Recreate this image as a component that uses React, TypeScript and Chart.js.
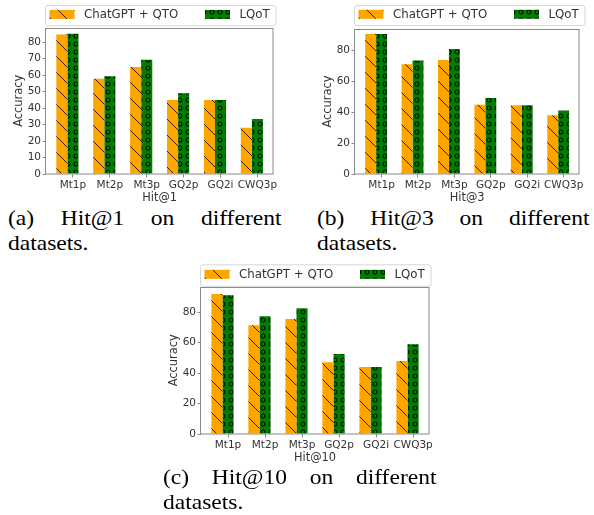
import React, { useEffect, useRef } from 'react';
import { Chart, registerables } from 'chart.js';

Chart.register(...registerables);

// ---------- data ----------
const categories = ['Mt1p', 'Mt2p', 'Mt3p', 'GQ2p', 'GQ2i', 'CWQ3p'];
const seriesNames = ['ChatGPT + QTO', 'LQoT'];

const hit1ChatGPT = [84.6, 57.7, 64.8, 44.8, 44.8, 28.0];
const hit1LQoT = [85.0, 59.3, 69.3, 49.0, 44.8, 33.4];

const hit3ChatGPT = [90.5, 71.0, 73.7, 44.8, 44.4, 38.0];
const hit3LQoT = [90.5, 73.5, 80.8, 49.2, 44.4, 41.0];

const hit10ChatGPT = [92.0, 71.5, 75.6, 47.2, 44.1, 47.9];
const hit10LQoT = [91.1, 77.4, 82.6, 52.5, 44.1, 59.0];

const yTicksHit1 = [0, 10, 20, 30, 40, 50, 60, 70, 80];
const yTicksHit3 = [0, 20, 40, 60, 80];
const yTicksHit10 = [0, 20, 40, 60, 80];

const xTitles = ['Hit@1', 'Hit@3', 'Hit@10'];
const yTitle = 'Accuracy';
const captions = [
  '(a) Hit@1 on different datasets.',
  '(b) Hit@3 on different datasets.',
  '(c) Hit@10 on different datasets.',
];

// ---------- styles ----------
const SANS = '"DejaVu Sans", sans-serif';
const TEXT = '#333333';
const SPINE = '#8a8a8a';
const ORANGE = '#FFA500';
const GREEN = '#008000';

function makeHatchPattern(ctx: CanvasRenderingContext2D): CanvasPattern | string {
  const s = 16;
  const c = document.createElement('canvas');
  c.width = s;
  c.height = s;
  const g = c.getContext('2d');
  if (!g) return ORANGE;
  g.fillStyle = ORANGE;
  g.fillRect(0, 0, s, s);
  g.strokeStyle = 'rgba(20,10,0,0.85)';
  g.lineWidth = 1;
  for (const off of [-s, 0, s]) {
    g.beginPath();
    g.moveTo(off - 2, -2);
    g.lineTo(off + s + 2, s + 2);
    g.stroke();
  }
  return ctx.createPattern(c, 'repeat') || ORANGE;
}

function makeCirclePattern(ctx: CanvasRenderingContext2D): CanvasPattern | string {
  const s = 8;
  const c = document.createElement('canvas');
  c.width = s;
  c.height = s;
  const g = c.getContext('2d');
  if (!g) return GREEN;
  g.fillStyle = GREEN;
  g.fillRect(0, 0, s, s);
  g.strokeStyle = 'rgba(0,0,0,0.9)';
  g.lineWidth = 1.1;
  g.beginPath();
  g.arc(4, 4, 2.0, 0, Math.PI * 2);
  g.stroke();
  return ctx.createPattern(c, 'repeat') || GREEN;
}

type PanelCfg = {
  left: number;
  top: number;
  w: number;
  h: number;
  padTop: number;
  padRight: number;
  legendTop: number;
  legendH: number;
  yMax: number;
  yTicks: number[];
  a: number[];
  b: number[];
  xTitle: string;
};

const panels: PanelCfg[] = [
  { left: 0, top: 0, w: 290, h: 205, padTop: 27.7, padRight: 16.7, legendTop: 5, legendH: 20.3, yMax: 88.7, yTicks: yTicksHit1, a: hit1ChatGPT, b: hit1LQoT, xTitle: xTitles[0] },
  { left: 309, top: 0, w: 285, h: 205, padTop: 29, padRight: 14.7, legendTop: 5, legendH: 20, yMax: 93.8, yTicks: yTicksHit3, a: hit3ChatGPT, b: hit3LQoT, xTitle: xTitles[1] },
  { left: 155, top: 260, w: 290, h: 205, padTop: 26.7, padRight: 16, legendTop: 4.3, legendH: 21.5, yMax: 96.8, yTicks: yTicksHit10, a: hit10ChatGPT, b: hit10LQoT, xTitle: xTitles[2] },
];

const captionBoxes = [
  { left: 8.3, top: 205, width: 273.5 },
  { left: 316.7, top: 205, width: 272.5 },
  { left: 162.7, top: 463.6, width: 273.5 },
];

function Panel({ cfg }: { cfg: PanelCfg }) {
  const ref = useRef<HTMLCanvasElement>(null);
  useEffect(() => {
    const canvas = ref.current;
    if (!canvas) return;
    const ctx = canvas.getContext('2d');
    if (!ctx) return;
    const hatch = makeHatchPattern(ctx);
    const circles = makeCirclePattern(ctx);

    const framePlugin = {
      id: 'frame',
      afterDatasetsDraw(chart: any) {
        const { ctx: c, chartArea: ca } = chart;
        c.save();
        c.strokeStyle = SPINE;
        c.lineWidth = 1;
        c.strokeRect(Math.round(ca.left) - 0.5, Math.round(ca.top) + 0.5, Math.round(ca.right - ca.left) + 0.5, Math.round(ca.bottom - ca.top) - 0.5);
        c.restore();
      },
    };

    const legendPlugin = {
      id: 'boxLegend',
      afterDraw(chart: any) {
        const { ctx: c, chartArea: ca } = chart;
        const L = Math.round(ca.left) - 0.5;
        const T = cfg.legendTop + 0.5;
        const W = 230.5;
        const H = cfg.legendH;
        c.save();
        c.beginPath();
        if ((c as any).roundRect) (c as any).roundRect(L, T, W, H, 2.5);
        else c.rect(L, T, W, H);
        c.fillStyle = 'rgba(255,255,255,0.85)';
        c.fill();
        c.strokeStyle = '#d6d6d6';
        c.lineWidth = 1;
        c.stroke();
        const patchX = [4, 159.5];
        chart.data.datasets.forEach((ds: any, i: number) => {
          const px = L + patchX[i];
          const cy = T + H / 2 - 1.2;
          c.fillStyle = ds.backgroundColor;
          c.fillRect(px, cy - 4.5, 25, 9);
          c.fillStyle = TEXT;
          c.font = '11.8px ' + SANS;
          c.textBaseline = 'middle';
          c.textAlign = 'left';
          c.fillText(ds.label, px + 34.5, cy + 0.8);
        });
        c.restore();
      },
    };

    const chart = new Chart(canvas, {
      type: 'bar',
      data: {
        datasets: [
          {
            label: seriesNames[0],
            data: cfg.a.map((v, i) => ({ x: i, y: v })),
            backgroundColor: hatch as any,
            borderWidth: 0,
          },
          {
            label: seriesNames[1],
            data: cfg.b.map((v, i) => ({ x: i, y: v })),
            backgroundColor: circles as any,
            borderWidth: 0,
          },
        ],
      },
      options: {
        responsive: false,
        animation: false,
        devicePixelRatio: window.devicePixelRatio || 1,
        layout: { padding: { top: cfg.padTop, right: cfg.padRight, bottom: 0, left: 0 } },
        datasets: { bar: { categoryPercentage: 0.6, barPercentage: 1.0, grouped: true } },
        plugins: { legend: { display: false }, tooltip: { enabled: false } },
        scales: {
          x: {
            type: 'linear',
            offset: false,
            min: -0.58,
            max: 5.58,
            afterBuildTicks: (s: any) => {
              s.ticks = categories.map((_, i) => ({ value: i + 0.15 }));
            },
            afterFit: (s: any) => {
              s.height = 31;
            },
            ticks: {
              callback: (_v: any, i: number) => categories[i],
              autoSkip: false,
              maxRotation: 0,
              minRotation: 0,
              padding: 1,
              color: TEXT,
              font: { family: SANS, size: 10.5 },
            },
            grid: { offset: false, drawOnChartArea: false, drawTicks: true, tickLength: 3.5, color: SPINE },
            border: { display: false },
            title: { display: true, text: cfg.xTitle, color: TEXT, font: { family: SANS, size: 11.4 }, padding: { top: 0, bottom: 0 } },
          },
          y: {
            min: 0,
            max: cfg.yMax,
            afterBuildTicks: (s: any) => {
              s.ticks = cfg.yTicks.map((v) => ({ value: v }));
            },
            afterFit: (s: any) => {
              s.width = 46;
            },
            ticks: { padding: 1.5, color: TEXT, font: { family: SANS, size: 10.5 } },
            grid: { drawOnChartArea: false, drawTicks: true, tickLength: 3.5, color: SPINE },
            border: { display: false },
            title: { display: true, text: yTitle, color: TEXT, font: { family: SANS, size: 11.4 }, padding: { top: 12.7, bottom: 0 } },
          },
        },
      } as any,
      plugins: [framePlugin, legendPlugin],
    });
    return () => chart.destroy();
  }, [cfg]);
  return (
    <canvas
      ref={ref}
      width={cfg.w}
      height={cfg.h}
      style={{ position: 'absolute', left: cfg.left, top: cfg.top, width: cfg.w, height: cfg.h }}
    />
  );
}

const SCALE_X = 1.07;

export default function App() {
  return (
    <div style={{ position: 'absolute', left: 0, top: 0, width: 594, height: 515, overflow: 'hidden', background: '#fff' }}>
      {panels.map((p, i) => (
        <Panel key={i} cfg={p} />
      ))}
      {captionBoxes.map((b, i) => (
        <div
          key={'c' + i}
          style={{
            position: 'absolute',
            left: b.left,
            top: b.top,
            width: b.width / SCALE_X,
            fontFamily: '"Liberation Serif", "Times New Roman", serif',
            fontSize: 22,
            lineHeight: '25px',
            textAlign: 'justify',
            color: '#000',
            transform: `scaleX(${SCALE_X})`,
            transformOrigin: 'left top',
          }}
        >
          {captions[i]}
        </div>
      ))}
    </div>
  );
}
